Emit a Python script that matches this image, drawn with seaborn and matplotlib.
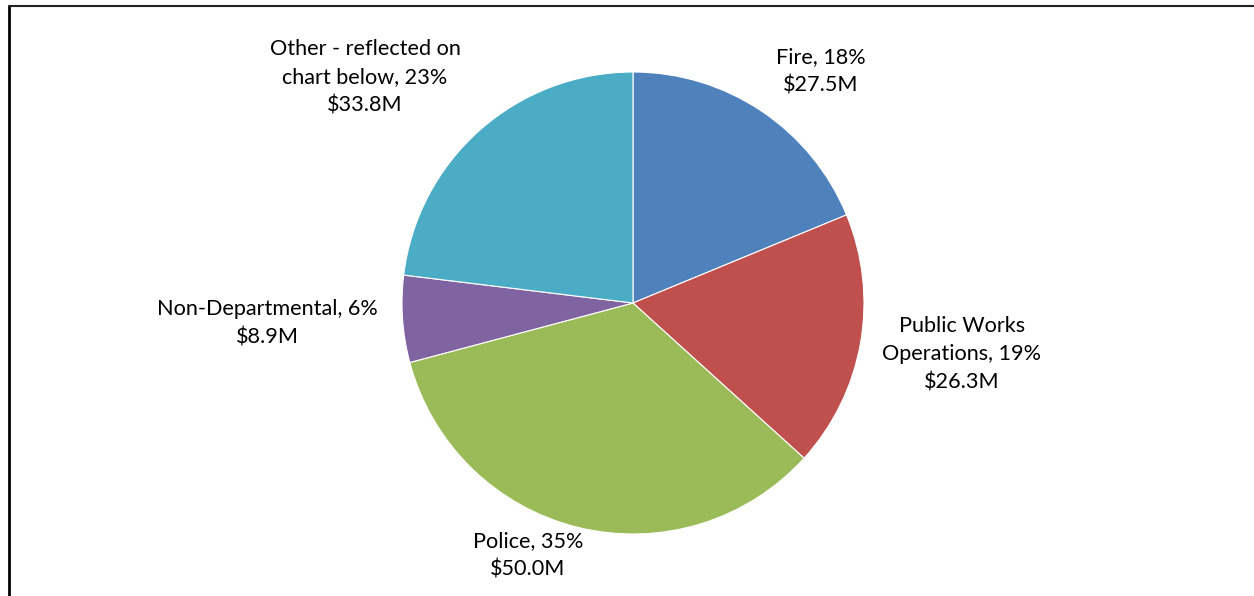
import matplotlib
matplotlib.use("Agg")
import matplotlib.pyplot as plt
import seaborn as sns
from matplotlib.lines import Line2D

sns.set_theme(style="white")
plt.rcParams['font.family'] = ['Lato', 'DejaVu Sans']

categories = ["Fire", "Public Works\nOperations", "Police", "Non-Departmental", "Other - reflected on\nchart below"]
values_m = [27.5, 26.3, 50.0, 8.9, 33.8]
pct_labels = ["18%", "19%", "35%", "6%", "23%"]
colors = ["#4F81BD", "#C0504D", "#9BBB59", "#8064A2", "#4BACC6"]

W, H = 1254, 596
fig = plt.figure(figsize=(W / 100, H / 100), dpi=100)
fig.patch.set_facecolor("white")

cx, cy, r = 633, 303, 231
ax = fig.add_axes([(cx - r) / W, (H - cy - r) / H, 2 * r / W, 2 * r / H])
ax.pie(values_m, colors=colors, startangle=90, counterclock=False, radius=1,
       wedgeprops=dict(edgecolor="white", linewidth=0.8))
ax.set_xlim(-1, 1)
ax.set_ylim(-1, 1)
ax.set_aspect("equal")
ax.axis("off")

# label positions (pixel centers) for each slice
label_pos = [(821, 71), (962, 354), (528, 555), (267, 323), (365, 77)]
for cat, v, p, (x, y) in zip(categories, values_m, pct_labels, label_pos):
    txt = f"{cat}, {p}\n${v:.1f}M"
    fig.text(x / W, 1 - y / H, txt, ha="center", va="center", fontsize=15.6,
             color="#000000", linespacing=1.53)

# partial frame: left and top lines
fig.add_artist(Line2D([8.5 / W, 8.5 / W], [0, 1 - 6 / H], color="black", lw=2, transform=fig.transFigure))
fig.add_artist(Line2D([8.5 / W, 1], [1 - 6 / H, 1 - 6 / H], color="#222222", lw=1.5, transform=fig.transFigure))

fig.savefig("out.png", dpi=100, facecolor="white")
